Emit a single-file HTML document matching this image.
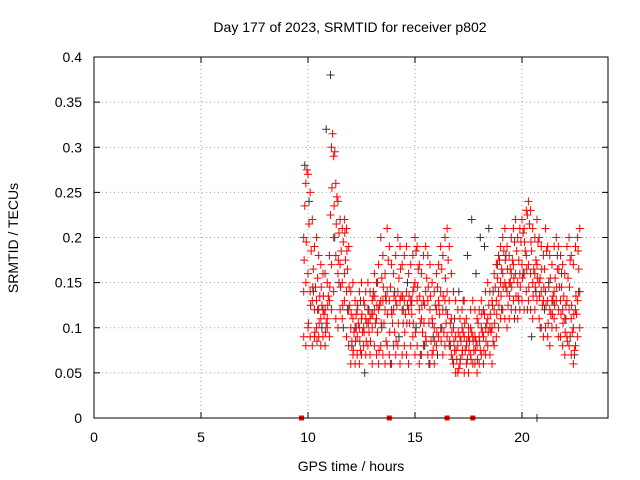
<!DOCTYPE html>
<html><head><meta charset="utf-8"><style>
body{margin:0;background:#fff}
svg{display:block;font-family:"Liberation Sans",sans-serif;font-size:14px}
</style></head><body>
<svg id="chart" width="640" height="480">
<text x="350" y="32" text-anchor="middle">Day 177 of 2023, SRMTID for receiver p802</text>
<text transform="translate(18,238) rotate(-90)" text-anchor="middle">SRMTID / TECUs</text>
<text x="351" y="471" text-anchor="middle">GPS time / hours</text>
<g id="grid"></g>
<g id="ticks"></g>
<g id="marks"></g>
<rect x="94" y="57" width="514" height="361" fill="none" stroke="#000"/>
</svg>
<script>
const xTicks=[0,5,10,15,20];
const yTicks=[0,0.05,0.1,0.15,0.2,0.25,0.3,0.35,0.4];
const yTickLabels=["0","0.05","0.1","0.15","0.2","0.25","0.3","0.35","0.4"];
const redStart=9.8, redStep=0.1;
const redHi=[.20,.26,.27,.25,.22,.19,.20,.18,.17,.16,.16,.15,.18,.30,.29,.26,.24,.22,.21,.22,.21,.19,.14,.15,.13,.12,.14,.15,.13,.14,.15,.14,.13,.16,.15,.17,.20,.18,.16,.21,.19,.17,.16,.18,.20,.19,.17,.18,.19,.16,.17,.18,.20,.19,.17,.16,.18,.19,.18,.17,.15,.14,.16,.17,.19,.18,.20,.21,.19,.16,.14,.13,.12,.11,.12,.13,.11,.10,.12,.13,.12,.11,.12,.13,.12,.14,.15,.14,.13,.16,.17,.18,.19,.20,.21,.19,.18,.20,.21,.22,.20,.21,.22,.21,.23,.24,.23,.21,.20,.22,.20,.19,.18,.21,.19,.18,.17,.19,.20,.19,.18,.17,.16,.19,.20,.18,.17,.19,.20,.21];
const redMid=[.14,.15,.16,.14,.13,.12,.13,.12,.11,.12,.12,.11,.13,.17,.20,.18,.16,.17,.15,.16,.14,.12,.10,.11,.10,.09,.10,.11,.10,.11,.12,.11,.10,.12,.11,.12,.13,.13,.12,.14,.13,.12,.12,.13,.14,.13,.12,.13,.14,.12,.13,.14,.15,.13,.12,.11,.13,.14,.13,.12,.11,.10,.12,.13,.14,.12,.13,.14,.13,.11,.10,.09,.08,.09,.10,.09,.08,.09,.10,.09,.09,.08,.09,.10,.09,.10,.11,.10,.10,.12,.13,.14,.15,.16,.15,.14,.15,.16,.17,.16,.15,.16,.17,.16,.18,.17,.16,.15,.16,.17,.15,.14,.13,.14,.13,.12,.13,.14,.13,.12,.13,.12,.11,.13,.12,.11,.10,.12,.13,.14];
const redLo=[.09,.08,.10,.09,.08,.09,.10,.09,.08,.09,.08,.10,.09,.12,.14,.11,.10,.12,.11,.13,.09,.08,.06,.07,.06,.07,.06,.07,.08,.07,.08,.07,.06,.08,.07,.06,.08,.07,.06,.08,.07,.06,.08,.07,.08,.06,.07,.08,.07,.06,.08,.09,.07,.08,.06,.07,.08,.09,.07,.06,.07,.06,.08,.09,.10,.07,.08,.09,.08,.07,.06,.05,.05,.06,.07,.05,.06,.05,.07,.06,.06,.05,.06,.07,.06,.07,.08,.07,.06,.08,.09,.10,.11,.12,.11,.10,.11,.12,.13,.12,.11,.12,.13,.12,.14,.13,.12,.11,.12,.13,.11,.10,.09,.10,.09,.08,.10,.11,.10,.09,.09,.08,.07,.09,.08,.07,.06,.08,.09,.10];
const redAStart=9.85;
const redA=[.235,.275,.215,.185,.165,.145,.155,.135,.125,.115,.105,.135,.225,.315,.295,.245,.205,.185,.195,.175,.165,.125,.085,.095,.115,.105,.075,.095,.125,.105,.095,.115,.135,.105,.095,.125,.155,.105,.085,.175,.145,.105,.095,.125,.155,.135,.105,.115,.125,.105,.115,.145,.185,.165,.105,.095,.125,.155,.105,.085,.075,.125,.145,.115,.165,.095,.105,.175,.105,.065,.075,.065,.055,.085,.095,.075,.065,.085,.095,.075,.085,.105,.075,.095,.115,.105,.125,.095,.085,.145,.155,.175,.165,.185,.145,.125,.165,.175,.195,.185,.175,.195,.205,.185,.225,.215,.185,.165,.175,.195,.155,.125,.165,.185,.145,.115,.135,.155,.165,.145,.145,.135,.125,.155,.175,.095,.075,.115,.165];
const redBStart=9.82;
const redB=[.175,.195,.105,.125,.145,.095,.085,.105,.145,.135,.095,.125,.145,.255,.235,.215,.175,.145,.125,.205,.185,.145,.115,.075,.085,.125,.085,.115,.095,.085,.105,.085,.115,.135,.125,.075,.105,.145,.135,.115,.095,.115,.135,.085,.105,.165,.135,.095,.105,.135,.125,.105,.095,.145,.135,.125,.105,.085,.145,.135,.105,.085,.095,.125,.085,.135,.155,.115,.085,.095,.085,.075,.095,.065,.075,.105,.085,.075,.065,.085,.075,.065,.085,.115,.075,.085,.095,.115,.125,.105,.115,.125,.135,.145,.175,.165,.135,.145,.155,.135,.135,.145,.155,.195,.165,.145,.195,.135,.145,.155,.135,.165,.145,.125,.105,.155,.115,.125,.145,.165,.115,.105,.095,.085,.145,.125,.115,.135,.185];
const redZeroTimes=[9.7,13.8,16.5,17.7];
const blackStart=9.85, blackStep=0.2;
const blackVals=[.28,.24,.14,.12,.10,.32,.38,.20,.15,.10,.12,.08,.10,.13,.05,.12,.14,.15,.10,.13,.06,.14,.09,.12,.15,.13,.10,.07,.08,.06,.09,.07,.10,.12,.08,.11,.14,.13,.18,.22,.16,.20,.19,.21,.14,.17,.12,.18,.15,.11,.13,.16,.12,.09,.14,.10,.12,.15,.13,.18,.16,.11,.09,.07,.14];
const blackZeroTimes=[20.7];

const NS="http://www.w3.org/2000/svg";
const X=v=>94+v*21.4, Y=v=>418-v*902.5;
function mk(tag,attrs,parent){const e=document.createElementNS(NS,tag);for(const k in attrs)e.setAttribute(k,attrs[k]);parent.appendChild(e);return e;}
const grid=document.getElementById('grid'),ticks=document.getElementById('ticks'),marks=document.getElementById('marks');
xTicks.forEach(t=>{
  if(t>0){const g=mk('line',{x1:X(t),x2:X(t),y1:57,y2:418,stroke:'#a0a0a0','stroke-dasharray':'1,3'},grid);
  
  }
  const l=mk('text',{x:X(t),y:442,'text-anchor':'middle'},ticks);l.textContent=t;
  
  
  mk('line',{x1:X(t),x2:X(t),y1:418,y2:412,stroke:'#000'},ticks);
  mk('line',{x1:X(t),x2:X(t),y1:57,y2:63,stroke:'#000'},ticks);
});
yTicks.forEach((t,i)=>{
  if(t>0&&t<0.4){const g=mk('line',{x1:94,x2:608,y1:Y(t),y2:Y(t),stroke:'#a0a0a0','stroke-dasharray':'1,3'},grid);
  
  }
  const l=mk('text',{x:82,y:Y(t)+5,'text-anchor':'end'},ticks);l.textContent=yTickLabels[i];
  
  
  mk('line',{x1:94,x2:100,y1:Y(t),y2:Y(t),stroke:'#000'},ticks);
  mk('line',{x1:608,x2:602,y1:Y(t),y2:Y(t),stroke:'#000'},ticks);
});
function plus(t,v,color,name){
  const x=X(t),y=Y(v);
  const p=mk('path',{d:`M${x-4},${y}h8M${x},${y-4}v8`,stroke:color,'stroke-width':1,fill:'none'},marks);
  
  
}
blackVals.forEach((v,i)=>plus(blackStart+i*blackStep,v,'#333333','black-point'));
blackZeroTimes.forEach(t=>plus(t,0,'#333333','black-zero-point'));
[redLo,redMid,redHi].forEach(arr=>arr.forEach((v,i)=>plus(redStart+i*redStep,v,'#ff0000','red-point')));
redA.forEach((v,i)=>plus(redAStart+i*redStep,v,'#ff0000','red-point'));
redB.forEach((v,i)=>plus(redBStart+i*redStep,v,'#ff0000','red-point'));
redZeroTimes.forEach(t=>{
  const r=mk('rect',{x:X(t)-2.5,y:415.5,width:5,height:5,fill:'#ff0000'},marks);
  
  
});
</script>
</body></html>
